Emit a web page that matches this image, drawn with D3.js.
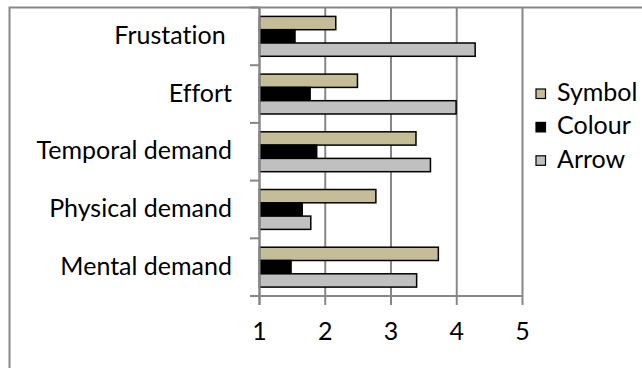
<!DOCTYPE html>
<html>
<head>
<meta charset="utf-8">
<script src="https://cdn.jsdelivr.net/npm/d3@7"></script>
<style>
  body { margin: 0; background: #fff; }
  text { font-family: Lato, "Open Sans", sans-serif; fill: #000; font-variant-ligatures: none; }
</style>
</head>
<body>
<div id="chart"></div>
<script>
// categories listed top to bottom as drawn
const categories = ["Frustation\u00a0", "Effort", "Temporal demand", "Physical demand", "Mental demand"];
const seriesNames = ["Symbol", "Colour", "Arrow"];
const seriesColors = ["#c4bd97", "#000000", "#c0c0c0"];

// values per category, same order as categories
const symbolVals = [2.16, 2.49, 3.38, 2.77, 3.72];
const colourVals = [1.54, 1.77, 1.87, 1.65, 1.48];
const arrowVals  = [4.28, 3.99, 3.60, 1.78, 3.39];

const xTicks = [1, 2, 3, 4, 5];

const W = 642, H = 368;
const gridColor = "#878787";
const fontSize = "25px";

let svg = d3.select("#chart").append("svg")
    .attr("width", W)
    .attr("height", H);

// chart frame (right and bottom edges fall outside the picture)
svg.append("path")
    .attr("d", "M9.5," + H + " V7.5 H" + W)
    .attr("fill", "none")
    .attr("stroke", gridColor)
    .attr("stroke-width", 2);

let x = d3.scaleLinear().domain([1, 5]).range([259.5, 522.5]);
let y = d3.scaleBand().domain(categories).range([7.5, 296]);
let yInner = d3.scaleBand().domain(seriesNames)
    .range([0, y.bandwidth()])
    .paddingInner(0)
    .paddingOuter(0.67);

//Gridlines + x ticks
svg.append("g").selectAll("line")
    .data(xTicks)
    .enter().append("line")
    .attr("x1", d => x(d)).attr("x2", d => x(d))
    .attr("y1", 7.5)
    .attr("y2", 305)
    .attr("stroke", gridColor)
    .attr("stroke-width", 2);

// x axis line
svg.append("line")
    .attr("x1", 250).attr("x2", x(5))
    .attr("y1", 296).attr("y2", 296)
    .attr("stroke", gridColor)
    .attr("stroke-width", 2);

// category tick marks on the left axis
let boundaries = categories.map(c => y(c)).concat([296]);
svg.append("g").selectAll("line")
    .data(boundaries)
    .enter().append("line")
    .attr("x1", 250).attr("x2", x(1))
    .attr("y1", d => d).attr("y2", d => d)
    .attr("stroke", gridColor)
    .attr("stroke-width", 2);

//Bars
let seriesData = [symbolVals, colourVals, arrowVals];
let rows = [];
categories.forEach((c, i) => {
    seriesNames.forEach((s, j) => {
        rows.push({cat: c, series: s, value: seriesData[j][i], color: seriesColors[j]});
    });
});

svg.append("g").selectAll("rect")
    .data(rows)
    .enter().append("rect")
    .attr("x", x(1))
    .attr("y", d => y(d.cat) + yInner(d.series))
    .attr("width", d => x(d.value) - x(1))
    .attr("height", yInner.bandwidth())
    .attr("fill", d => d.color)
    .attr("stroke", "#000")
    .attr("stroke-width", 1.5);

// redraw left axis on top of bars
svg.append("line")
    .attr("x1", x(1)).attr("x2", x(1))
    .attr("y1", 7.5).attr("y2", 305)
    .attr("stroke", gridColor)
    .attr("stroke-width", 2);

// category labels
svg.append("g").selectAll("text")
    .data(categories)
    .enter().append("text")
    .attr("x", 232)
    .attr("y", d => y(d) + y.bandwidth() / 2)
    .attr("dy", "0.3em")
    .attr("text-anchor", "end")
    .style("font-size", fontSize)
    .text(d => d);

// x tick labels
svg.append("g").selectAll("text")
    .data(xTicks)
    .enter().append("text")
    .attr("x", d => x(d))
    .attr("y", 332)
    .attr("dy", "0.3em")
    .attr("text-anchor", "middle")
    .style("font-size", fontSize)
    .text(d => d);

//Legend
let legend = svg.append("g").selectAll("g")
    .data(seriesNames)
    .enter().append("g")
    .attr("transform", (d, i) => "translate(536," + (93.5 + i * 33.4) + ")");

legend.append("rect")
    .attr("x", 0).attr("y", -4.5)
    .attr("width", 9.5).attr("height", 9.5)
    .attr("fill", (d, i) => seriesColors[i])
    .attr("stroke", "#000")
    .attr("stroke-width", 1.2);

legend.append("text")
    .attr("x", 21)
    .attr("y", 0)
    .attr("dy", "0.3em")
    .style("font-size", fontSize)
    .text(d => d);
</script>
</body>
</html>
